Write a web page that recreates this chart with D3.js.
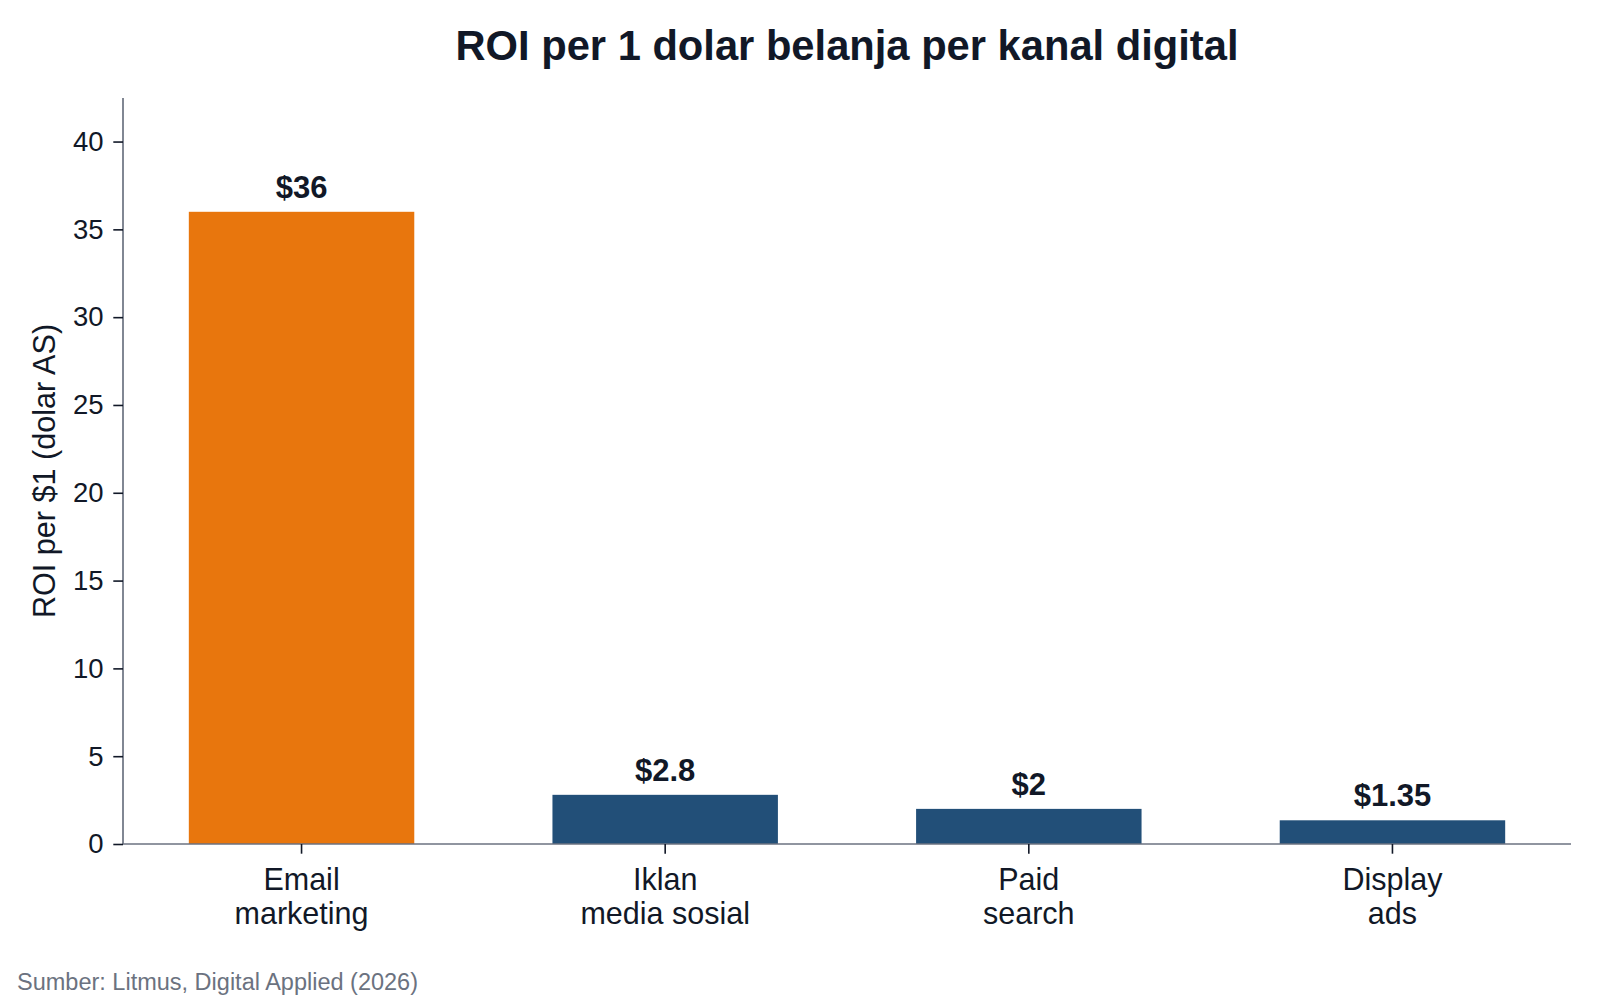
<!DOCTYPE html>
<html>
<head>
<meta charset="utf-8">
<script src="https://cdn.jsdelivr.net/npm/d3@7"></script>
<style>
	body { margin: 0; background: #ffffff; }
	svg { display: block; font-family: "Liberation Sans", Arial, sans-serif; }
</style>
</head>
<body>
<script>
// chart data
const channels = ['Email\nmarketing', 'Iklan\nmedia sosial', 'Paid\nsearch', 'Display\nads'];
const roi_values = [36, 2.8, 2, 1.35];
const bar_colors = ['#e8760d', '#224f78', '#224f78', '#224f78'];
const y_ticks = [0, 5, 10, 15, 20, 25, 30, 35, 40];

const title_text = 'ROI per 1 dolar belanja per kanal digital';
const y_label_text = 'ROI per $1 (dolar AS)';
const source_text = 'Sumber: Litmus, Digital Applied (2026)';

function init()
{
	const width = 1600;
	const height = 1000;
	const margin = {top: 98, right: 29, bottom: 156, left: 123};
	const tick_len = 9.7;
	const text_color = '#111827';
	const axis_color = '#6b7280';

	var svg = d3.select('body').append('svg')
				.attr('width', width)
				.attr('height', height);

	var x = d3.scaleBand()
				.domain(channels)
				.range([margin.left, width - margin.right])
				.paddingInner(0.38)
				.paddingOuter(0.181);

	var y = d3.scaleLinear()
				.domain([0, d3.max(roi_values) * 1.18])
				.range([height - margin.bottom, margin.top]);

	// bars
	svg.append('g')
		.selectAll('rect')
		.data(roi_values)
		.enter()
		.append('rect')
			.attr('x', function(d, i) { return x(channels[i]); })
			.attr('y', function(d) { return y(d); })
			.attr('width', x.bandwidth())
			.attr('height', function(d) { return y(0) - y(d); })
			.attr('fill', function(d, i) { return bar_colors[i]; });

	// value labels
	svg.append('g')
		.selectAll('text')
		.data(roi_values)
		.enter()
		.append('text')
			.attr('x', function(d, i) { return x(channels[i]) + x.bandwidth() / 2; })
			.attr('y', function(d) { return y(d) - 14; })
			.attr('text-anchor', 'middle')
			.attr('font-size', 31)
			.attr('font-weight', 'bold')
			.attr('fill', text_color)
			.text(function(d) { return '$' + d; });

	// y axis
	var y_axis = svg.append('g')
					.attr('transform', 'translate(' + margin.left + ',0)')
					.call(d3.axisLeft(y).tickValues(y_ticks).tickSize(tick_len).tickPadding(9.7));
	y_axis.select('.domain')
		.attr('d', 'M0,' + y.range()[0] + 'V' + y.range()[1])
		.attr('stroke', axis_color)
		.attr('stroke-width', 1.7);
	y_axis.selectAll('.tick line').attr('stroke', text_color).attr('stroke-width', 1.6);
	y_axis.selectAll('.tick text')
		.attr('font-size', 27.5)
		.attr('font-family', '"Liberation Sans", Arial, sans-serif')
		.attr('fill', text_color);

	// x axis
	var x_axis = svg.append('g')
					.attr('transform', 'translate(0,' + y(0) + ')')
					.call(d3.axisBottom(x).tickSize(tick_len).tickFormat(''));
	x_axis.select('.domain')
		.attr('d', 'M' + x.range()[0] + ',0H' + x.range()[1])
		.attr('stroke', axis_color)
		.attr('stroke-width', 1.7);
	x_axis.selectAll('.tick line').attr('stroke', text_color).attr('stroke-width', 1.6);

	// category labels, two lines each
	var cat_labels = svg.append('g')
						.selectAll('text')
						.data(channels)
						.enter()
						.append('text')
							.attr('text-anchor', 'middle')
							.attr('font-size', 30.5)
							.attr('fill', text_color);
	cat_labels.each(function(d)
	{
		var t = d3.select(this);
		d.split('\n').forEach(function(line, i)
		{
			t.append('tspan')
				.attr('x', x(d) + x.bandwidth() / 2)
				.attr('y', y(0) + 46 + i * 34)
				.text(line);
		});
	});

	// y axis label
	svg.append('text')
		.attr('transform', 'translate(55,' + ((y.range()[0] + y.range()[1]) / 2) + ') rotate(-90)')
		.attr('text-anchor', 'middle')
		.attr('font-size', 30.6)
		.attr('fill', text_color)
		.text(y_label_text);

	// title
	svg.append('text')
		.attr('x', (x.range()[0] + x.range()[1]) / 2)
		.attr('y', 60)
		.attr('text-anchor', 'middle')
		.attr('font-size', 41.7)
		.attr('font-weight', 'bold')
		.attr('fill', text_color)
		.text(title_text);

	// source note
	svg.append('text')
		.attr('x', 17)
		.attr('y', 990)
		.attr('font-size', 23.5)
		.attr('fill', axis_color)
		.text(source_text);
}

init();
</script>
</body>
</html>
